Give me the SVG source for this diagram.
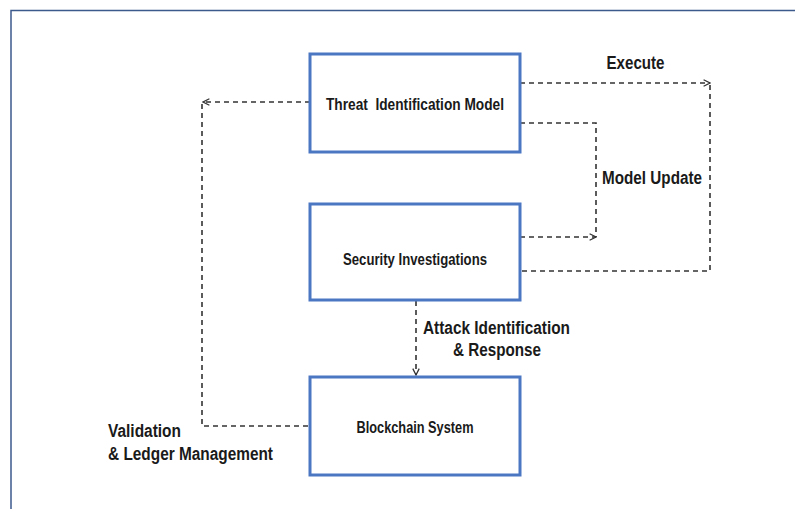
<svg xmlns="http://www.w3.org/2000/svg" width="795" height="509" viewBox="0 0 795 509">
<style>
.node rect{fill:#fff;stroke:#4a76c2;stroke-width:3}
.nt{font-family:"Liberation Sans",Arial,sans-serif;font-weight:bold;font-size:16.5px;fill:#1a1a1a;text-anchor:middle}
.lb{font-family:"Liberation Sans",Arial,sans-serif;font-weight:bold;font-size:17.5px;fill:#1a1a1a}
.c{fill:none;stroke:#333;stroke-width:1.6;stroke-dasharray:5,4}
</style>
<defs>
<marker id="ah" viewBox="0 0 10 10" refX="9" refY="5" markerWidth="8" markerHeight="8" markerUnits="userSpaceOnUse" orient="auto">
<path d="M1,1 L9,5 L1,9" fill="none" stroke="#333" stroke-width="1.6"/>
</marker>
</defs>
<rect width="795" height="509" fill="#fff"/>
<path d="M11,509 V10.5 H795" fill="none" stroke="#3d5a8c" stroke-width="1.5"/>
<g id="connectors">
<path class="c" d="M310,102 H203" marker-end="url(#ah)"/>
<path class="c" d="M202,104 V426 H310"/>
<path class="c" d="M520,83 H710" marker-end="url(#ah)"/>
<path class="c" d="M710,85 V271 H520"/>
<path class="c" d="M520,123 H596 V237"/>
<path class="c" d="M520,237 H596" marker-end="url(#ah)"/>
<path class="c" d="M416,301 V375" marker-end="url(#ah)"/>
</g>
<g id="threat" class="node">
<rect x="310" y="54" width="210" height="98"/>
<text class="nt" x="415" y="110" xml:space="preserve" textLength="178" lengthAdjust="spacingAndGlyphs">Threat  Identification Model</text>
</g>
<g id="security" class="node">
<rect x="310" y="204" width="210" height="96"/>
<text class="nt" x="415" y="265" textLength="144" lengthAdjust="spacingAndGlyphs">Security Investigations</text>
</g>
<g id="blockchain" class="node">
<rect x="310" y="377" width="210" height="98"/>
<text class="nt" x="415" y="433" textLength="117" lengthAdjust="spacingAndGlyphs">Blockchain System</text>
</g>
<g id="labels">
<text class="lb" x="606.5" y="68.5" textLength="58" lengthAdjust="spacingAndGlyphs">Execute</text>
<text class="lb" x="602" y="184" textLength="100" lengthAdjust="spacingAndGlyphs">Model Update</text>
<text class="lb" x="423" y="334" textLength="147" lengthAdjust="spacingAndGlyphs">Attack Identification</text>
<text class="lb" x="453" y="356" textLength="88" lengthAdjust="spacingAndGlyphs">&amp; Response</text>
<text class="lb" x="108" y="437" textLength="73" lengthAdjust="spacingAndGlyphs">Validation</text>
<text class="lb" x="108" y="460" textLength="165" lengthAdjust="spacingAndGlyphs">&amp; Ledger Management</text>
</g>
</svg>
